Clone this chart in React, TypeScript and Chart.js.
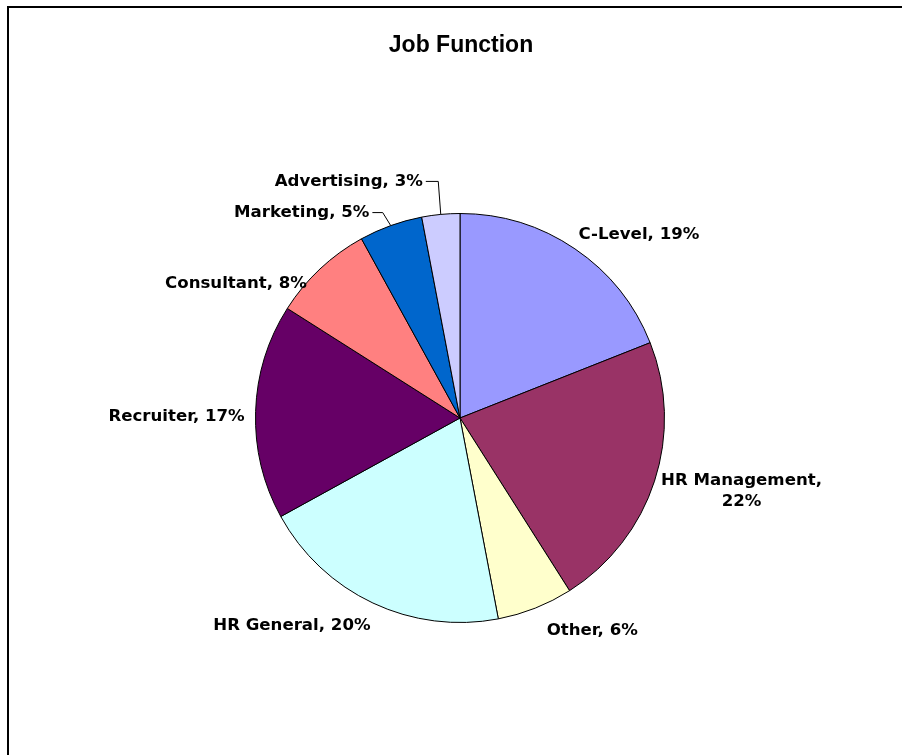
import React, { useEffect, useRef } from "react";
import { Chart, registerables } from "chart.js";

Chart.register(...registerables);

const categories = ["C-Level", "HR Management", "Other", "HR General", "Recruiter", "Consultant", "Marketing", "Advertising"];
const shares = [19, 22, 6, 20, 17, 8, 5, 3];
const sliceColors = ["#9999FF", "#993366", "#FFFFCC", "#CCFFFF", "#660066", "#FF8080", "#0066CC", "#CCCCFF"];
const chartTitle = "Job Function";

// label placement: offset of the label centre from the slice's outer mid-point
const labelLayout = [
  { dx: 64, dy: -14, wrap: false, leader: false, elbow: 0 },
  { dx: 87, dy: 10, wrap: true, leader: false, elbow: 0 },
  { dx: 57, dy: 23, wrap: false, leader: false, elbow: 0 },
  { dx: -81, dy: 23, wrap: false, leader: false, elbow: 0 },
  { dx: -79, dy: 5, wrap: false, leader: false, elbow: 0 },
  { dx: -84, dy: 15, wrap: false, leader: false, elbow: 0 },
  { dx: -89, dy: -13, wrap: false, leader: true, elbow: -8 },
  { dx: -92, dy: -33, wrap: false, leader: true, elbow: -2.5 },
];

const LABEL_FONT = "bold 16.6px 'DejaVu Sans', Verdana, sans-serif";

const decorPlugin = {
  id: "decor",
  afterDraw(chart: any) {
    const ctx = chart.ctx as CanvasRenderingContext2D;
    ctx.save();
    // frame
    ctx.strokeStyle = "#000";
    ctx.lineWidth = 2;
    ctx.strokeRect(8, 7, 1200, 1200);
    // title
    ctx.fillStyle = "#000";
    ctx.font = "bold 23px 'Liberation Sans', Arial, sans-serif";
    ctx.textAlign = "center";
    ctx.textBaseline = "alphabetic";
    ctx.fillText(chartTitle, 461, 52);

    const meta = chart.getDatasetMeta(0);
    ctx.font = LABEL_FONT;
    ctx.textBaseline = "middle";
    meta.data.forEach((arc: any, i: number) => {
      const mid = (arc.startAngle + arc.endAngle) / 2;
      const mx = arc.x + Math.cos(mid) * arc.outerRadius;
      const my = arc.y + Math.sin(mid) * arc.outerRadius;
      const lay = labelLayout[i];
      const cx = mx + lay.dx;
      const cy = my + lay.dy;
      const lines = lay.wrap
        ? [categories[i] + ",", shares[i] + "%"]
        : [categories[i] + ", " + shares[i] + "%"];
      const lh = 21;
      ctx.textAlign = "center";
      ctx.fillStyle = "#000";
      lines.forEach((ln, k) => {
        const y = cy + (k - (lines.length - 1) / 2) * lh;
        ctx.fillText(ln, cx, y);
      });
      if (lay.leader) {
        const w = ctx.measureText(lines[0]).width;
        const endX = cx + w / 2 + 3;
        ctx.beginPath();
        ctx.strokeStyle = "#000";
        ctx.lineWidth = 1;
        ctx.moveTo(mx, my);
        ctx.lineTo(mx + lay.elbow, cy);
        ctx.lineTo(endX, cy);
        ctx.stroke();
      }
    });
    ctx.restore();
  },
};

export default function App() {
  const ref = useRef<HTMLCanvasElement | null>(null);
  useEffect(() => {
    if (!ref.current) return;
    const chart = new Chart(ref.current, {
      type: "pie",
      data: {
        labels: categories,
        datasets: [
          {
            data: shares,
            backgroundColor: sliceColors,
            borderColor: "#000",
            borderWidth: 1,
          },
        ],
      },
      options: {
        animation: false,
        responsive: false,
        maintainAspectRatio: false,
        layout: { padding: { top: 213, bottom: 132, left: 255, right: 237 } },
        plugins: {
          legend: { display: false },
          title: { display: false },
          tooltip: { enabled: false },
        },
      },
      plugins: [decorPlugin],
    });
    return () => chart.destroy();
  }, []);
  return (
    <div style={{ position: "absolute", left: 0, top: 0, width: 902, height: 755, background: "#fff", overflow: "hidden" }}>
      <canvas ref={ref} width={902} height={755} style={{ width: 902, height: 755, display: "block" }} />
    </div>
  );
}
